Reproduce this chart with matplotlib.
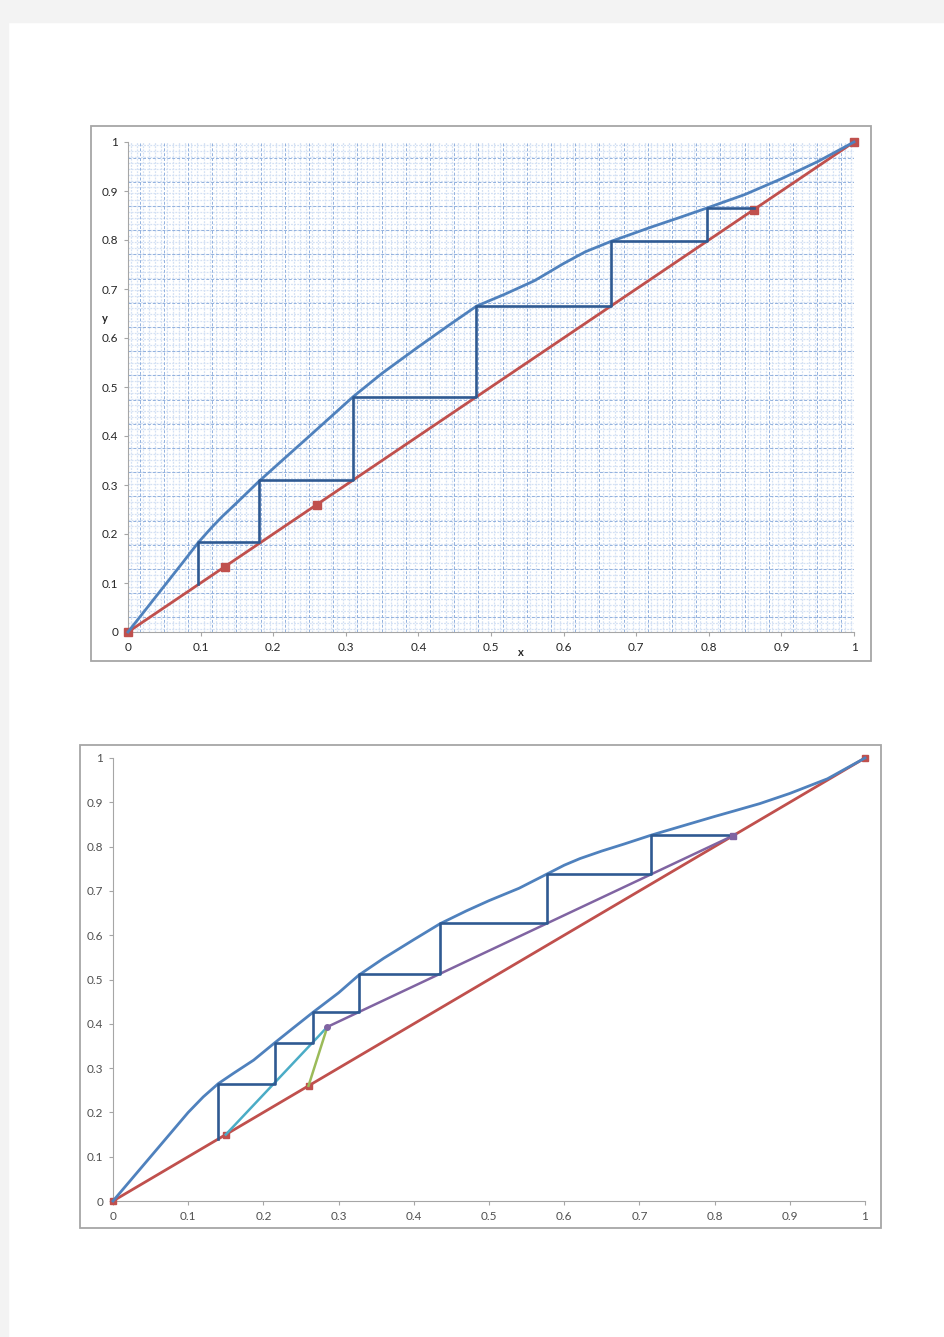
import numpy as np
import matplotlib
matplotlib.use("Agg")
import matplotlib.pyplot as plt
from matplotlib.patches import Rectangle

# ---------------------------------------------------------------
# data

# upper chart: equilibrium curve, diagonal, stage construction
top_eq_x = [0, 0.025, 0.05, 0.075, 0.097, 0.115, 0.13, 0.15, 0.18, 0.21, 0.25, 0.31, 0.35, 0.40, 0.44, 0.48,
            0.52, 0.56, 0.60, 0.63, 0.665, 0.72, 0.76, 0.797, 0.85, 0.90, 0.95, 1.0]
top_eq_y = [0, 0.047, 0.094, 0.141, 0.183, 0.213, 0.236, 0.264, 0.307, 0.347, 0.400, 0.48, 0.528, 0.582, 0.624, 0.665,
            0.69, 0.717, 0.752, 0.776, 0.797, 0.826, 0.846, 0.865, 0.893, 0.925, 0.96, 1.0]
top_diag_x = [0, 0.133, 0.26, 0.862, 1.0]
top_stage_x = [0.097, 0.18, 0.31, 0.48, 0.665, 0.797]
top_stage_y = [0.183, 0.31, 0.48, 0.665, 0.797, 0.865]
top_step_start = 0.097
top_step_end = 0.862

# lower chart
bot_eq_x = [0, 0.05, 0.10, 0.12, 0.14, 0.16, 0.187, 0.215, 0.24, 0.266, 0.30, 0.327, 0.36, 0.40, 0.435, 0.47,
            0.50, 0.54, 0.577, 0.60, 0.621, 0.65, 0.68, 0.716, 0.76, 0.80, 0.825, 0.86, 0.90, 0.95, 1.0]
bot_eq_y = [0, 0.10, 0.20, 0.235, 0.265, 0.288, 0.318, 0.357, 0.391, 0.426, 0.47, 0.51, 0.548, 0.59, 0.626, 0.655,
            0.678, 0.706, 0.738, 0.758, 0.773, 0.79, 0.806, 0.826, 0.848, 0.868, 0.88, 0.897, 0.92, 0.953, 1.0]
bot_diag_x = [0, 0.15, 0.26, 1.0]
bot_strip_x = [0.15, 0.285]
bot_strip_y = [0.15, 0.393]
bot_q_x = [0.26, 0.285]
bot_q_y = [0.26, 0.393]
bot_rect_x = [0.285, 0.825]
bot_rect_y = [0.393, 0.825]
bot_stage_x = [0.14, 0.215, 0.266, 0.327, 0.435, 0.577, 0.716]
bot_stage_y = [0.265, 0.357, 0.426, 0.512, 0.627, 0.738, 0.826]
bot_step_start = 0.14
bot_step_end = 0.825

ticks = [0, 0.1, 0.2, 0.3, 0.4, 0.5, 0.6, 0.7, 0.8, 0.9, 1]
tick_labels = ["0", "0.1", "0.2", "0.3", "0.4", "0.5", "0.6", "0.7", "0.8", "0.9", "1"]

BLUE = "#4F81BD"
RED = "#C0504D"
STEP = "#2F5A92"
CYAN = "#4BACC6"
GREEN = "#9BBB59"
PURPLE = "#8064A2"

plt.rcParams["font.family"] = ["Lato", "DejaVu Sans"]

W, H = 945, 1337
fig = plt.figure(figsize=(W / 100, H / 100), dpi=100)
fig.patch.set_facecolor("white")


def fx(px):
    return px / W


def fy(py):
    return 1 - py / H


# page edges (scanned document look)
fig.patches.append(Rectangle((0, 0), fx(8), 1, transform=fig.transFigure, color="#f3f3f3", zorder=0))
fig.patches.append(Rectangle((0, fy(22)), 1, 22 / H, transform=fig.transFigure, color="#f3f3f3", zorder=0))

# chart frames
for x0, y0, x1, y1 in [(91, 126, 871, 661), (80, 745, 881, 1228)]:
    fig.patches.append(Rectangle((fx(x0), fy(y1)), fx(x1 - x0), (y1 - y0) / H,
                                 transform=fig.transFigure, fill=False,
                                 edgecolor="#a6a6a6", lw=1.3, zorder=1))


def staircase(stage_x, stage_y, start, end):
    sx = [stage_x[0]]
    sy = [start]
    for i in range(len(stage_x)):
        sx.append(stage_x[i])
        sy.append(stage_y[i])
        nxt = stage_x[i + 1] if i + 1 < len(stage_x) else end
        sx.append(nxt)
        sy.append(stage_y[i])
    return sx, sy


def style_axes(ax, color):
    ax.set_xlim(0, 1)
    ax.set_ylim(0, 1)
    ax.set_xticks(ticks)
    ax.set_xticklabels(tick_labels)
    ax.set_yticks(ticks)
    ax.set_yticklabels(tick_labels)
    for s in ["top", "right"]:
        ax.spines[s].set_visible(False)
    for s in ["left", "bottom"]:
        ax.spines[s].set_color("#a6a6a6")
        ax.spines[s].set_linewidth(0.8)
    ax.tick_params(axis="both", which="major", direction="out", length=3, width=0.8,
                   color="#a6a6a6", labelsize=8.5, labelcolor=color, pad=4)
    ax.set_facecolor("white")


# ---------------------------------------------------------------
# upper chart
ax1 = fig.add_axes([fx(128), fy(632), fx(726), 490 / H])
style_axes(ax1, "#262626")

# graph paper background
for gx in np.arange(0.004, 1.0, 1 / 120):
    ax1.axvline(gx, color="#d4e1f4", lw=0.9, ls=(0, (1.5, 1)), zorder=0)
for gy in np.arange(0.006, 1.0, 6.05 / 490):
    ax1.axhline(gy, color="#d4e1f4", lw=0.9, ls=(0, (1.5, 1)), zorder=0)
for gx in np.arange(0.016, 1.0, 1 / 30):
    ax1.axvline(gx, color="#92b1de", lw=0.7, ls=(0, (3, 2)), zorder=0)
for gy in np.arange(0.030, 1.0, 24.2 / 490):
    ax1.axhline(gy, color="#92b1de", lw=0.7, ls=(0, (3, 2)), zorder=0)

ax1.plot(top_diag_x, top_diag_x, color=RED, lw=2, marker="s", ms=5.5, zorder=3, clip_on=False)
ax1.plot(top_eq_x, top_eq_y, color=BLUE, lw=2, zorder=4, clip_on=False)
sx, sy = staircase(top_stage_x, top_stage_y, top_step_start, top_step_end)
ax1.plot(sx, sy, color=STEP, lw=1.9, zorder=5)

fig.text(fx(105), fy(318), "y", fontsize=8, fontweight="bold", ha="center", va="center", color="#262626")
fig.text(fx(521), fy(652), "x", fontsize=8, fontweight="bold", ha="center", va="center", color="#262626")

# ---------------------------------------------------------------
# lower chart
ax2 = fig.add_axes([fx(113), fy(1201), fx(752), 443 / H])
style_axes(ax2, "#505050")

ax2.plot(bot_diag_x, bot_diag_x, color=RED, lw=2, marker="s", ms=5, zorder=3, clip_on=False)
ax2.plot(bot_eq_x, bot_eq_y, color=BLUE, lw=2, zorder=4, clip_on=False)
ax2.plot(bot_strip_x, bot_strip_y, color=CYAN, lw=1.8, zorder=4)
ax2.plot(bot_q_x, bot_q_y, color=GREEN, lw=1.8, zorder=4)
ax2.plot(bot_rect_x, bot_rect_y, color=PURPLE, lw=1.8, zorder=4)
ax2.plot(bot_rect_x[:1], bot_rect_y[:1], color=PURPLE, marker="o", ms=4, zorder=6)
ax2.plot(bot_rect_x[1:], bot_rect_y[1:], color=PURPLE, marker="s", ms=5, zorder=6)
sx, sy = staircase(bot_stage_x, bot_stage_y, bot_step_start, bot_step_end)
ax2.plot(sx, sy, color=STEP, lw=1.9, zorder=5)

fig.savefig("out.png", dpi=100, facecolor=fig.get_facecolor())
